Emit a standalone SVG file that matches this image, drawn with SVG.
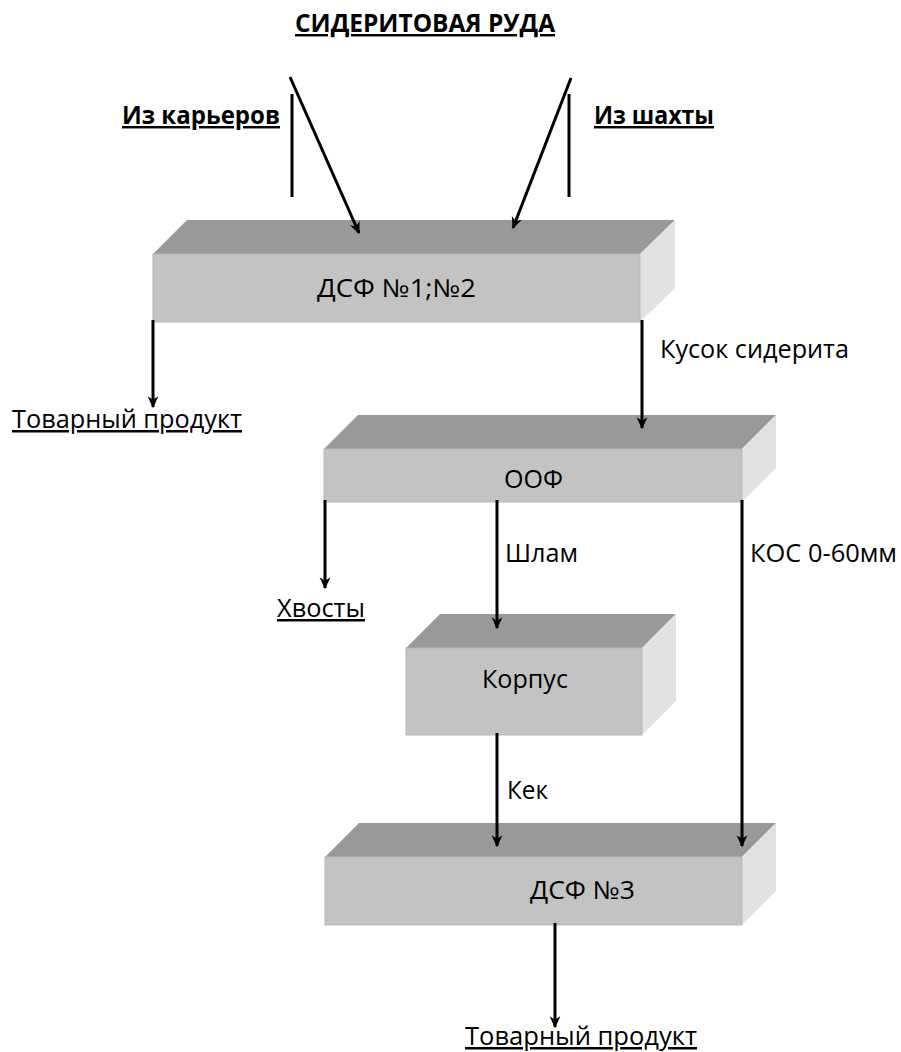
<svg xmlns="http://www.w3.org/2000/svg" width="901" height="1052" viewBox="0 0 901 1052">
<style>
text{font-family:"Open Sans","Liberation Sans",sans-serif;font-size:25px;fill:#000}
.b{font-weight:bold;font-size:24.5px}
.u{text-decoration:underline}
.top{fill:#999999}
.front{fill:#c3c3c3;stroke:#b8b8b8;stroke-width:1}
.side{fill:#e2e2e2}
.c{stroke:#000;stroke-width:3;fill:none}
</style>
<defs>
<marker id="ah" viewBox="0 0 10 10" refX="9" refY="5" markerWidth="4" markerHeight="4.5" orient="auto" markerUnits="strokeWidth">
<path d="M0,0.5 L10,5 L0,9.5 L3,5 Z" fill="#000"/>
</marker>
</defs>
<rect width="901" height="1052" fill="#fff"/>
<text class="b u" x="295" y="32" textLength="260" lengthAdjust="spacingAndGlyphs">СИДЕРИТОВАЯ РУДА</text>
<text class="b u" x="122" y="124" textLength="158" lengthAdjust="spacingAndGlyphs">Из карьеров</text>
<text class="b u" x="594" y="124" textLength="120" lengthAdjust="spacingAndGlyphs">Из шахты</text>

<g id="dsf12">
<polygon class="top" points="153,254 187,220 675,220 640,254"/>
<polygon class="side" points="640,254 675,220 675,288 640,322"/>
<rect class="front" x="153" y="254" width="487" height="68"/>
<text x="317" y="297" textLength="159" lengthAdjust="spacingAndGlyphs">ДСФ №1;№2</text>
</g>
<g id="oof">
<polygon class="top" points="324,449 358,415 776,415 742,449"/>
<polygon class="side" points="742,449 776,415 776,468 742,502"/>
<rect class="front" x="324" y="449" width="418" height="53"/>
<text x="504" y="488" textLength="59" lengthAdjust="spacingAndGlyphs">ООФ</text>
</g>
<g id="korpus">
<polygon class="top" points="406,648 440,614 676,614 642,648"/>
<polygon class="side" points="642,648 676,614 676,701 642,735"/>
<rect class="front" x="406" y="648" width="236" height="87"/>
<text x="482" y="688" textLength="86" lengthAdjust="spacingAndGlyphs">Корпус</text>
</g>
<g id="dsf3">
<polygon class="top" points="325,857 359,823 776,823 742,857"/>
<polygon class="side" points="742,857 776,823 776,891 742,925"/>
<rect class="front" x="325" y="857" width="417" height="68"/>
<text x="530" y="899" textLength="105" lengthAdjust="spacingAndGlyphs">ДСФ №3</text>
</g>

<g id="connectors">
<line class="c" x1="292" y1="94" x2="292" y2="197"/>
<line class="c" x1="569" y1="94" x2="569" y2="197"/>
<line class="c" x1="290" y1="77" x2="359" y2="233" marker-end="url(#ah)"/>
<line class="c" x1="571" y1="78" x2="513" y2="228" marker-end="url(#ah)"/>
<line class="c" x1="153" y1="320" x2="153" y2="407" marker-end="url(#ah)"/>
<line class="c" x1="642" y1="320" x2="642" y2="428" marker-end="url(#ah)"/>
<line class="c" x1="325" y1="500" x2="325" y2="588" marker-end="url(#ah)"/>
<line class="c" x1="497" y1="500" x2="497" y2="628" marker-end="url(#ah)"/>
<line class="c" x1="742" y1="500" x2="742" y2="846" marker-end="url(#ah)"/>
<line class="c" x1="497" y1="733" x2="497" y2="846" marker-end="url(#ah)"/>
<line class="c" x1="555" y1="923" x2="555" y2="1027" marker-end="url(#ah)"/>
</g>

<text class="u" x="12" y="428" textLength="230" lengthAdjust="spacingAndGlyphs">Товарный продукт</text>
<text x="660" y="358" textLength="189" lengthAdjust="spacingAndGlyphs">Кусок сидерита</text>
<text class="u" x="277" y="617" textLength="88" lengthAdjust="spacingAndGlyphs">Хвосты</text>
<text x="505" y="562" textLength="73" lengthAdjust="spacingAndGlyphs">Шлам</text>
<text x="750" y="562" textLength="147" lengthAdjust="spacingAndGlyphs">КОС 0-60мм</text>
<text x="507" y="799" textLength="41" lengthAdjust="spacingAndGlyphs">Кек</text>
<text class="u" x="465" y="1045" textLength="232" lengthAdjust="spacingAndGlyphs">Товарный продукт</text>
</svg>
